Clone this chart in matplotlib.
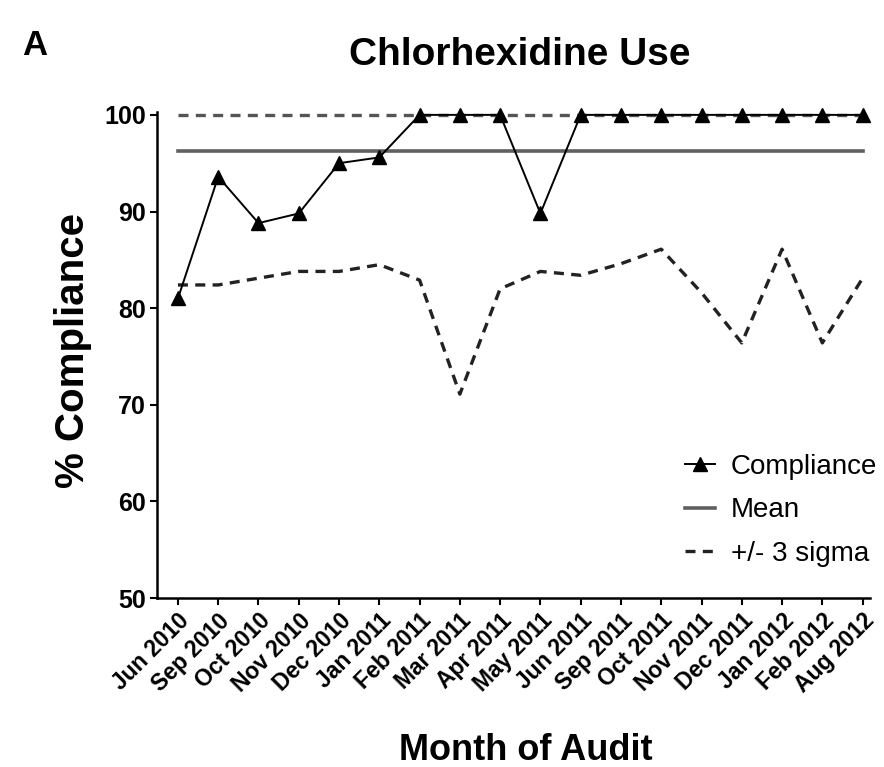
import matplotlib
matplotlib.use("Agg")
import matplotlib.pyplot as plt
import numpy as np

plt.rcParams['font.family'] = ['Liberation Sans', 'DejaVu Sans']

months = ["Jun 2010", "Sep 2010", "Oct 2010", "Nov 2010", "Dec 2010", "Jan 2011",
          "Feb 2011", "Mar 2011", "Apr 2011", "May 2011", "Jun 2011", "Sep 2011",
          "Oct 2011", "Nov 2011", "Dec 2011", "Jan 2012", "Feb 2012", "Aug 2012"]
compliance = [81.0, 93.6, 88.8, 89.8, 95.0, 95.6, 100, 100, 100, 89.8, 100, 100,
              100, 100, 100, 100, 100, 100]
mean_val = 96.3
upper_sigma = [100] * len(months)
lower_sigma = [82.4, 82.4, 83.1, 83.8, 83.8, 84.5, 82.9, 71.1, 82.0, 83.8, 83.4, 84.6,
               86.1, 81.6, 76.4, 86.1, 76.4, 83.1]

fig = plt.figure(figsize=(8.84, 7.67), dpi=100)
ax = fig.add_axes([0.1776, 0.2203, 0.8064, 0.6337])

x = np.arange(len(months))
ax.plot(x, upper_sigma, color='#555555', lw=2.4, ls=(0, (3, 2.2)), zorder=2)
ax.plot(x, lower_sigma, color='#222222', lw=2.4, ls=(0, (3, 2.2)), zorder=2,
        label='+/- 3 sigma')
ax.plot([x[0], x[-1]], [mean_val, mean_val], color='#606060', lw=2.6, zorder=2,
        label='Mean')
ax.plot(x, compliance, color='black', lw=1.4, marker='^', ms=9.5, mfc='black',
        mec='black', zorder=4, clip_on=False, label='Compliance')

ax.set_xlim(-0.52, 17.18)
ax.set_ylim(50, 100.3)
ax.set_yticks([50, 60, 70, 80, 90, 100])
ax.set_xticks(x)
ax.set_xticklabels(months, rotation=45, ha='right', rotation_mode='anchor',
                   fontsize=16.5, fontweight='bold')
for lab in ax.get_yticklabels():
    lab.set_fontsize(18)
    lab.set_fontweight('bold')
ax.spines['top'].set_visible(False)
ax.spines['right'].set_visible(False)
ax.spines['left'].set_linewidth(1.8)
ax.spines['bottom'].set_linewidth(1.8)
ax.tick_params(axis='both', direction='out', length=5, width=1.5, pad=3)

ax.set_ylabel('% Compliance', fontsize=29, fontweight='bold')
ax.yaxis.label.set_va('center')
ax.yaxis.set_label_coords(-0.118, 0.51)
ax.set_xlabel('Month of Audit', fontsize=26, fontweight='bold')
ax.xaxis.label.set_va('baseline')
ax.xaxis.set_label_coords(0.517, -0.333)
fig.text(0.588, 0.915, 'Chlorhexidine Use', fontsize=28, fontweight='bold',
         ha='center', va='baseline')

handles, labels = ax.get_legend_handles_labels()
order = [2, 1, 0]
ax.legend([handles[i] for i in order], [labels[i] for i in order],
          loc='lower right', bbox_to_anchor=(1.045, 0.012), frameon=False,
          fontsize=20, handlelength=1.1, handletextpad=0.55, labelspacing=0.64)

fig.text(0.025, 0.928, 'A', fontsize=25, fontweight='bold')

fig.savefig('out.png', dpi=100)
